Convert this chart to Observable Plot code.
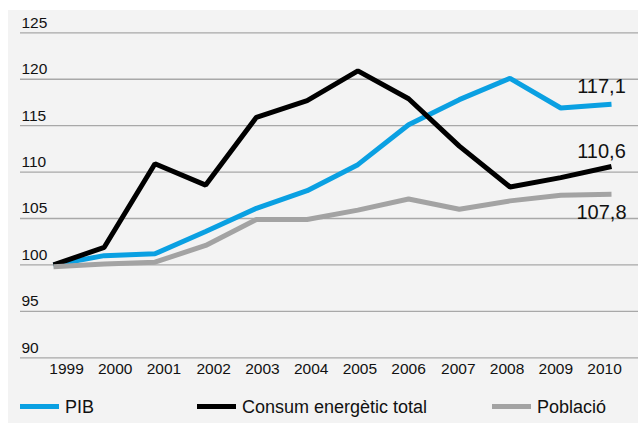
<!DOCTYPE html>
<html>
<head>
<meta charset="utf-8">
<script src="https://cdn.jsdelivr.net/npm/d3@7"></script>
<script src="https://cdn.jsdelivr.net/npm/@observablehq/plot@0.6"></script>
<style>
  body { margin: 0; background: #fff; font-family: "Liberation Sans", Arial, sans-serif; }
  #panel { position: absolute; left: 8px; top: 10px; width: 630px; height: 413px; background: #f3f3f3; overflow: hidden; }
  #legend { position: absolute; left: 0; top: 385px; width: 630px; height: 28px; }
  .sw { position: absolute; height: 5px; width: 39px; top: 9px; }
  .lt { position: absolute; top: 0; font-size: 18px; line-height: 24px; color: #111; }
</style>
</head>
<body>
<div id="panel"><div id="chart"></div><div id="legend"></div></div>
<script>
const years = [1999, 2000, 2001, 2002, 2003, 2004, 2005, 2006, 2007, 2008, 2009, 2010];
const pib = [100, 101.0, 101.2, 103.6, 106.1, 108.0, 110.8, 115.1, 117.8, 120.1, 116.9, 117.3];
const consum = [100, 101.9, 110.9, 108.6, 115.9, 117.7, 120.9, 117.9, 112.8, 108.4, 109.4, 110.6];
const poblacio = [99.8, 100.1, 100.3, 102.1, 104.9, 104.9, 105.9, 107.1, 106.0, 106.9, 107.5, 107.6];
const seriesNames = ["PIB", "Consum energètic total", "Població"];
const seriesColors = ["#0aa0e2", "#000000", "#a3a3a3"];
const yTicks = [90, 95, 100, 105, 110, 115, 120, 125];
const endLabels = ["117,1", "110,6", "107,8"];
const endDy = [-18, -15, 18];

const allSeries = [pib, consum, poblacio];
const rows = [];
allSeries.forEach((vals, s) => vals.forEach((v, i) => rows.push({year: years[i], value: v, series: seriesNames[s]})));
const ends = allSeries.map((vals, s) => ({year: years[years.length - 1], value: vals[vals.length - 1], label: endLabels[s], dy: endDy[s]}));

// year labels in the original sit on a slightly narrower band than the data points
const yearMarks = years.map((yr, i) => Plot.text([yr], {x: d => d, text: d => String(d), frameAnchor: "bottom", dy: 16, dx: Math.round(13 - 1.8 * i), fontSize: 15.5, fill: "#111"}));

const chart = Plot.plot({
  width: 630,
  height: 385,
  marginLeft: 45,
  marginRight: 27,
  marginTop: 22.3,
  marginBottom: 37.7,
  style: {background: "transparent", fontFamily: "Liberation Sans, Arial, sans-serif", color: "#111"},
  x: {type: "linear", domain: [1999, 2010], axis: null},
  y: {domain: [90, 125], axis: null},
  color: {domain: seriesNames, range: seriesColors},
  marks: [
    Plot.ruleY(yTicks, {stroke: "#a8a8a8", strokeWidth: 1.3, insetLeft: -33, insetRight: -27}),
    Plot.text(yTicks, {y: d => d, text: d => String(d), frameAnchor: "left", textAnchor: "start", dx: -32, dy: -10, fontSize: 15.5, fill: "#111"}),
    ...yearMarks,
    Plot.line(rows, {x: "year", y: "value", z: "series", stroke: "series", strokeWidth: 5, strokeLinejoin: "miter", strokeLinecap: "butt"}),
    ...ends.map(e => Plot.text([e], {x: "year", y: "value", text: "label", dx: -10, dy: e.dy, fontSize: 20, fill: "#111"}))
  ]
});
document.getElementById("chart").appendChild(chart);

const legend = document.getElementById("legend");
const swLeft = [12, 189, 484];
seriesNames.forEach((n, i) => {
  const sw = document.createElement("div");
  sw.className = "sw";
  sw.style.left = swLeft[i] + "px";
  sw.style.background = seriesColors[i];
  legend.appendChild(sw);
  const t = document.createElement("div");
  t.className = "lt";
  t.style.left = (swLeft[i] + 45) + "px";
  t.textContent = n;
  legend.appendChild(t);
});
</script>
</body>
</html>
